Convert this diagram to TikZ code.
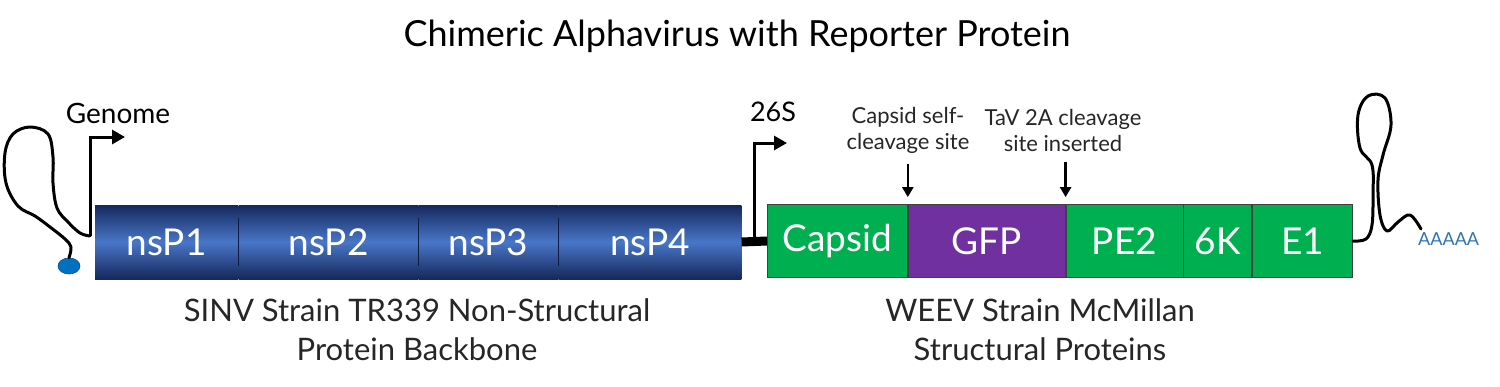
\documentclass[tikz,border=0pt]{standalone}
\usepackage{fontspec}
\setmainfont{Lato}
\usetikzlibrary{shapes,arrows,arrows.meta,positioning,calc}
\definecolor{nsblue}{RGB}{72,118,200}
\definecolor{nsdark}{RGB}{22,40,92}
\definecolor{spgreen}{RGB}{0,176,80}
\definecolor{gfppurple}{RGB}{112,48,160}
\definecolor{capblue}{RGB}{0,112,192}
\definecolor{polyablue}{RGB}{46,117,182}

\begin{document}
\begin{tikzpicture}[
    x=1pt, y=-1pt,
    every node/.style={align=center},
    nsbox/.style={rectangle, minimum height=74pt, inner sep=0pt, anchor=west, top color=nsdark, bottom color=nsdark, middle color=nsblue, text=white, font=\fontsize{37}{40}\selectfont},
    spbox/.style={rectangle, minimum height=73pt, inner sep=0pt, draw=black!75, line width=0.8pt, fill=spgreen, text=white, font=\fontsize{37}{40}\selectfont},
    label/.style={font=\fontsize{31}{39}\selectfont, text=black!85},
    sitelabel/.style={font=\fontsize{22}{26}\selectfont, text=black!85},
    divider/.style={line width=1.2pt, draw=nsdark!70!black},
    promoter/.style={line width=3pt, -{Triangle[length=13pt,width=14pt]}},
    cleave/.style={line width=2.5pt, -{Triangle[length=10pt,width=11pt]}},
    rna/.style={line width=3pt, line cap=round, line join=round},
    linker/.style={line width=9pt}
]
\useasboundingbox (0,0) rectangle (1500,386);

% Title
\node[font=\fontsize{36}{40}\selectfont] (title) at (737,36) {Chimeric Alphavirus with Reporter Protein};

% Non-structural backbone
\node[nsbox, minimum width=143pt] (nsp1) at (95,242) {nsP1};
\node[nsbox, minimum width=180pt, right=0pt of nsp1] (nsp2) {nsP2};
\node[nsbox, minimum width=139pt, right=0pt of nsp2] (nsp3) {nsP3};
\node[nsbox, minimum width=183pt, right=0pt of nsp3] (nsp4) {nsP4};
\draw[divider] ($(nsp1.north east)+(0,13)$) -- ($(nsp1.south east)+(0,-13)$);
\draw[divider] ($(nsp2.north east)+(0,13)$) -- ($(nsp2.south east)+(0,-13)$);
\draw[divider] ($(nsp3.north east)+(0,13)$) -- ($(nsp3.south east)+(0,-13)$);

% Structural proteins
\node[spbox, minimum width=140pt, anchor=west] (capsid) at (767,241) {Capsid};
\node[spbox, minimum width=157pt, right=0pt of capsid, fill=gfppurple] (gfp) {GFP};
\node[spbox, minimum width=117pt, right=0pt of gfp] (pe2) {PE2};
\node[spbox, minimum width=68pt, right=0pt of pe2] (sixk) {6K};
\node[spbox, minimum width=100pt, right=0pt of sixk] (eone) {E1};

\draw[linker] (nsp4.east) -- (capsid.west);

% Bottom labels
\node[label] (nslabel) at (417,330) {SINV Strain TR339 Non-Structural\\Protein Backbone};
\node[label] (splabel) at (1040,330) {WEEV Strain McMillan\\Structural Proteins};

% 5' cap and stem-loop
\node[ellipse, fill=capblue, draw=capblue!70!black, line width=0.6pt, minimum width=22pt, minimum height=16pt, inner sep=0pt] (cap) at (69,266) {};
\coordinate (gstart) at (90,236);
\coordinate (gend) at (125,137);
\draw[rna] plot[smooth, tension=0.6] coordinates {(cap.north) (71,247) (65,239) (50,227) (35,216) (18,206) (6,183) (5,153) (13,134) (30,127) (48,134) (53,157) (53,183) (57,208) (68,222) (80,233) (gstart)};

% Genome promoter
\draw[promoter] (gstart) |- (gend);
\node[font=\fontsize{28}{30}\selectfont] (genome) at (118,113) {Genome};

% 26S promoter
\coordinate (sgstart) at ($(nsp4.east)!0.5!(capsid.west)$);
\coordinate (sgend) at (787,143);
\draw[promoter] (sgstart) |- (sgend);
\node[font=\fontsize{27}{30}\selectfont] (sgs) at (773,112) {26S};

% Cleavage sites
\node[sitelabel] (caplabel) at (908,130) {Capsid self-\\cleavage site};
\node[sitelabel] (tavlabel) at (1063,130) {TaV 2A cleavage\\site inserted};
\draw[cleave, shorten <=7pt, shorten >=7pt] (caplabel.south -| capsid.north east) -- (capsid.north east);
\draw[cleave, shorten <=7pt, shorten >=7pt] (tavlabel.south -| gfp.north east) -- (gfp.north east);

% 3' stem-loop and poly-A tail
\node[anchor=west, text=polyablue, font=\fontsize{18}{20}\selectfont, inner sep=1pt] (polya) at (1417,239) {AAAAA};
\draw[rna] plot[smooth, tension=0.6] coordinates {(eone.east) (1366,239) (1372,225) (1373,195) (1372,165) (1360,148) (1358,115) (1368,96) (1385,98) (1391,125) (1383,155) (1378,180) (1380,215) (1387,231) (1398,222) (1410,215) (1421,229)};
\end{tikzpicture}
\end{document}
